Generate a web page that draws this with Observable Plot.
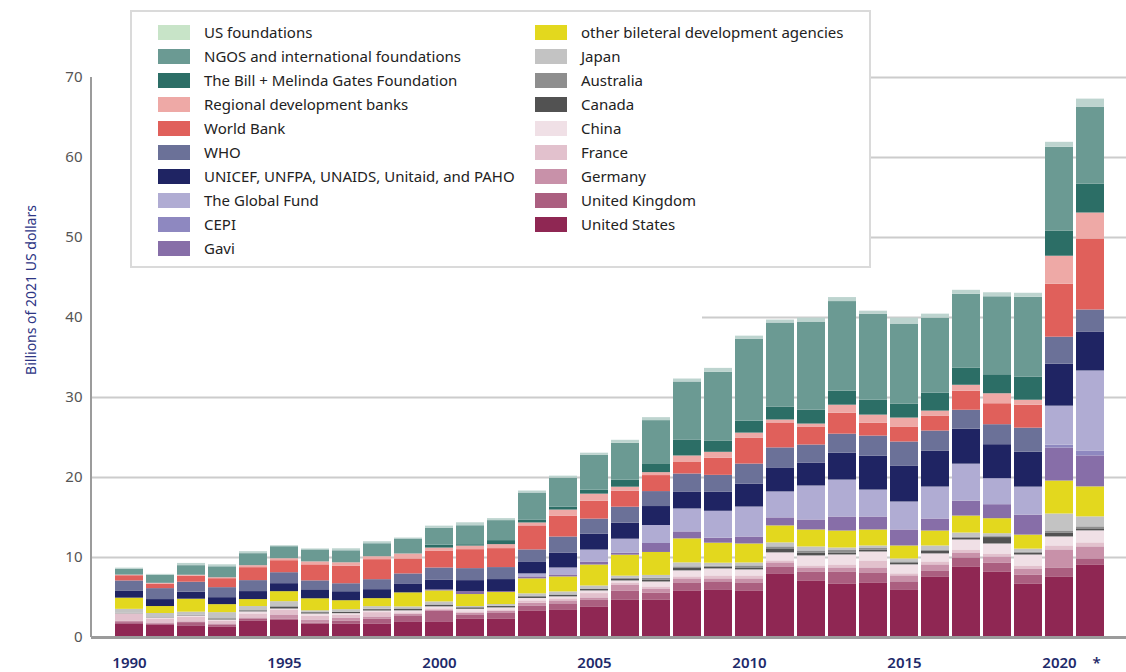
<!DOCTYPE html>
<html><head><meta charset="utf-8">
<script src="https://cdn.jsdelivr.net/npm/d3@7"></script>
<script src="https://cdn.jsdelivr.net/npm/@observablehq/plot@0.6"></script>
<style>
body{margin:0;background:#fff;font-family:"Noto Sans",sans-serif;}
#wrap{position:relative;width:1126px;height:672px;overflow:hidden}
#legend{position:absolute;left:130px;top:10px;width:737px;height:254px;border:2px solid #dadada;background:#fff}
.item{position:absolute;height:24px;display:flex;align-items:center;font-size:15px;color:#222;white-space:nowrap}
.sw{width:32px;height:15px;margin-right:14px;flex:none}
</style></head>
<body><div id="wrap"><div id="chart"></div><div id="legend"></div></div>
<script>
const years = [1990,1991,1992,1993,1994,1995,1996,1997,1998,1999,2000,2001,2002,2003,2004,2005,2006,2007,2008,2009,2010,2011,2012,2013,2014,2015,2016,2017,2018,2019,2020,2021];

const unitedStates = [1.71,1.58,1.46,1.33,2.08,2.2,1.7,1.7,1.7,1.96, 1.96,2.33,2.33,3.33,3.46,3.83,4.7,4.7,5.83,5.96, 5.83,7.96,7.08,6.7,6.83,5.96,7.58,8.83,8.2,6.7, 7.58,9.08];
const unitedKingdom = [0.15,0.12,0.4,0.25,0.25,0.12,0.12,0.37,0.62,0.75, 1.3,0.5,0.75,0.62,0.75,0.87,1.12,0.87,1.0,1.0, 1.0,0.87,1.12,1.5,1.25,1.0,0.75,1.12,1.12,1.12, 1.12,0.75];
const germany = [0.15,0.12,0.1,0.12,0.12,0.5,0.37,0.37,0.25,0.2, 0.12,0.2,0.2,0.33,0.37,0.25,0.75,0.5,0.5,0.37, 0.5,0.5,0.5,0.5,0.62,0.75,0.75,0.62,0.75,0.75, 2.25,1.5];
const france = [0.9,0.5,0.54,0.37,0.5,0.62,0.5,0.37,0.54,0.17, 0.2,0.17,0.17,0.3,0.25,0.54,0.25,0.25,0.25,0.37, 0.37,0.25,0.25,0.37,0.87,0.25,0.37,0.37,0.37,0.37, 0.5,0.5];
const china = [0.05,0.12,0.2,0.12,0.25,0.12,0.25,0.17,0.2,0.25, 0.25,0.33,0.25,0.3,0.25,0.33,0.25,0.62,0.75,0.87, 0.75,1.0,1.25,1.25,1.12,1.12,1.0,1.25,1.25,1.37, 1.12,1.5];
const canada = [0.03,0.03,0.05,0.12,0.05,0.25,0.15,0.15,0.17,0.2, 0.2,0.17,0.17,0.2,0.2,0.2,0.25,0.25,0.3,0.2, 0.25,0.5,0.37,0.25,0.25,0.25,0.37,0.25,0.8,0.25, 0.5,0.25];
const australia = [0.03,0.03,0.05,0.05,0.12,0.05,0.05,0.05,0.05,0.05, 0.05,0.05,0.05,0.05,0.05,0.05,0.1,0.2,0.2,0.15, 0.25,0.25,0.25,0.37,0.25,0.12,0.12,0.12,0.12,0.12, 0.25,0.25];
const japan = [0.5,0.5,0.37,0.75,0.5,0.62,0.2,0.3,0.33,0.25, 0.37,0.12,0.2,0.33,0.37,0.37,0.25,0.37,0.5,0.37, 0.37,0.5,0.5,0.25,0.25,0.37,0.5,0.5,0.37,0.37, 2.12,1.25];
const otherBilateral = [1.4,0.87,1.62,1.0,0.87,1.25,1.5,1.12,1.0,1.75, 1.37,1.5,1.5,1.87,1.87,2.62,2.62,2.87,3.0,2.5, 2.37,2.12,2.12,2.12,2.0,1.62,1.87,2.12,1.87,1.75, 4.12,3.75];
const gavi = [0,0,0,0,0,0,0,0,0,0, 0.12,0.37,0.12,0.25,0.25,0.37,0.25,1.12,0.87,0.62, 0.87,1.0,1.25,1.75,1.62,2.0,1.5,1.87,1.75,2.5, 4.12,3.87];
const cepi = [0,0,0,0,0,0,0,0,0,0, 0,0,0,0,0,0,0,0,0,0, 0,0,0,0,0,0,0,0,0,0, 0.37,0.62];
const globalFund = [0,0,0,0,0,0,0,0,0,0, 0,0,0,0.37,0.87,1.5,1.75,2.25,2.87,3.37, 3.75,3.25,4.25,4.62,3.37,3.5,4.0,4.62,3.25,3.5, 4.87,10.0];
const unicef = [0.9,0.87,0.87,0.87,1.0,1.0,1.12,1.12,1.12,1.12, 1.25,1.37,1.5,1.5,1.87,2.0,2.0,2.37,2.12,2.37, 2.87,3.0,2.87,3.37,4.25,4.5,4.5,4.37,4.25,4.37, 5.25,4.87];
const who = [1.25,1.37,1.25,1.25,1.37,1.37,1.12,1.0,1.25,1.25, 1.5,1.5,1.5,1.5,2.0,1.87,2.0,1.87,2.25,2.12, 2.5,2.5,2.25,2.37,2.5,3.0,2.5,2.37,2.5,3.0, 3.37,2.75];
const worldBank = [0.65,0.54,0.75,1.12,1.62,1.5,2.0,2.17,2.5,1.87, 2.12,2.37,2.37,3.0,2.62,2.25,2.0,2.0,1.5,2.13, 3.25,3.12,2.25,2.62,1.62,1.87,1.87,2.37,2.62,2.87, 6.62,8.87];
const regionalBanks = [0.08,0.12,0.12,0.12,0.25,0.25,0.37,0.45,0.37,0.62, 0.37,0.45,0.5,0.37,0.75,0.87,0.5,0.37,0.75,0.75, 0.62,0.37,0.37,1.0,1.0,1.12,0.62,0.75,1.25,0.62, 3.5,3.25];
const gates = [0,0,0,0,0,0,0,0,0,0, 0.37,0.17,0.5,0.37,0.37,0.5,0.87,1.1,2.0,1.37, 1.5,1.62,1.75,1.75,1.87,1.75,2.25,2.12,2.37,2.87, 3.12,3.62];
const ngos = [0.75,1.0,1.2,1.37,1.5,1.5,1.5,1.5,1.62,1.87, 2.12,2.37,2.5,3.37,3.62,4.37,4.62,5.4,7.25,8.62, 10.25,10.5,11.0,11.2,10.75,10.0,9.37,9.25,9.75,10.0, 10.5,9.62];
const usFoundations = [0.12,0.12,0.28,0.25,0.25,0.12,0.12,0.25,0.25,0.12, 0.25,0.37,0.25,0.25,0.25,0.25,0.37,0.37,0.37,0.5, 0.37,0.37,0.5,0.5,0.37,0.75,0.5,0.5,0.5,0.5, 0.62,1.0];

// bottom-to-top stacking order
const seriesNames = ["United States","United Kingdom","Germany","France","China","Canada","Australia","Japan","other bileteral development agencies","Gavi","CEPI","The Global Fund","UNICEF, UNFPA, UNAIDS, Unitaid, and PAHO","WHO","World Bank","Regional development banks","The Bill + Melinda Gates Foundation","NGOS and international foundations","US foundations"];
const seriesValues = [unitedStates,unitedKingdom,germany,france,china,canada,australia,japan,otherBilateral,gavi,cepi,globalFund,unicef,who,worldBank,regionalBanks,gates,ngos,usFoundations];
const barColors = ["#8f2753","#ab5f80","#c891a9","#e2c1cd","#f0e0e6","#525252","#8e8e8e","#c3c3c3","#e3d81e","#876ea8","#8e88c0","#b0acd3","#1f2463","#6b7198","#e0605b","#eea9a6","#2c6e66","#6b9a93","#bdd4cf"];
const swatchColors = barColors.slice(0, 18).concat(["#c8e4c8"]);
const legendCol1 = ["US foundations","NGOS and international foundations","The Bill + Melinda Gates Foundation","Regional development banks","World Bank","WHO","UNICEF, UNFPA, UNAIDS, Unitaid, and PAHO","The Global Fund","CEPI","Gavi"];
const legendCol2 = ["other bileteral development agencies","Japan","Australia","Canada","China","France","Germany","United Kingdom","United States"];
const tickYears = [1990,1995,2000,2005,2010,2015,2020];
const starYears = [2021];
const yTicks = [0,10,20,30,40,50,60,70];

const data = [];
seriesNames.forEach((s, k) => years.forEach((yr, i) => data.push({year: yr, series: s, value: seriesValues[k][i]})));

const grid = {stroke: "#cccccc", strokeWidth: 2, insetRight: -10};
const xAxisStyle = {tickSize: 0, tickPadding: 20, fontSize: 15, fontWeight: 600, color: "#1e2a6a", label: null};
const plot = Plot.plot({
  width: 1126, height: 672,
  marginTop: 77, marginBottom: 35, marginLeft: 102, marginRight: 10,
  style: {fontFamily: "'Noto Sans', sans-serif", background: "white", overflow: "visible"},
  x: {type: "band", domain: years, padding: 0.1, label: null},
  y: {domain: [0, 70], label: null},
  color: {domain: seriesNames, range: barColors},
  marks: [
    Plot.ruleY([10, 20, 30], {...grid, insetLeft: -11}),
    Plot.ruleY([40], {...grid, insetLeft: 600}),
    Plot.ruleY([50, 60, 70], {...grid, insetLeft: 767}),
    Plot.barY(data, {x: "year", y: "value", fill: "series"}),
    Plot.ruleY([0], {stroke: "#9b9b9b", strokeWidth: 3, insetLeft: -11, insetRight: -10}),
    Plot.axisY({ticks: yTicks, tickSize: 0, tickPadding: 20, fontSize: 15, color: "#555", label: null}),
    Plot.axisX({ticks: tickYears, ...xAxisStyle, tickFormat: d => String(d)}),
    Plot.axisX({ticks: starYears, ...xAxisStyle, dx: 6, tickFormat: () => "*"})
  ]
});
document.getElementById("chart").appendChild(plot);

// left axis line and y title
const ys = plot.scale("y");
const svg = d3.select(plot);
svg.append("line").attr("x1", 91).attr("x2", 91).attr("y1", ys.apply(0)).attr("y2", ys.apply(70))
  .attr("stroke", "#9b9b9b").attr("stroke-width", 2);
svg.append("text").attr("transform", "translate(36,290) rotate(-90)").attr("text-anchor", "middle")
  .attr("fill", "#2d3584").attr("font-size", 14).text("Billions of 2021 US dollars");

// legend
const legend = document.getElementById("legend");
function addItem(name, left, row) {
  const idx = seriesNames.indexOf(name);
  const d = document.createElement("div");
  d.className = "item";
  d.style.left = left + "px";
  d.style.top = (8 + 24 * row) + "px";
  const sw = document.createElement("div");
  sw.className = "sw";
  sw.style.background = swatchColors[idx];
  d.appendChild(sw);
  d.appendChild(document.createTextNode(name));
  legend.appendChild(d);
}
legendCol1.forEach((n, i) => addItem(n, 26, i));
legendCol2.forEach((n, i) => addItem(n, 403, i));
</script>
</body></html>
